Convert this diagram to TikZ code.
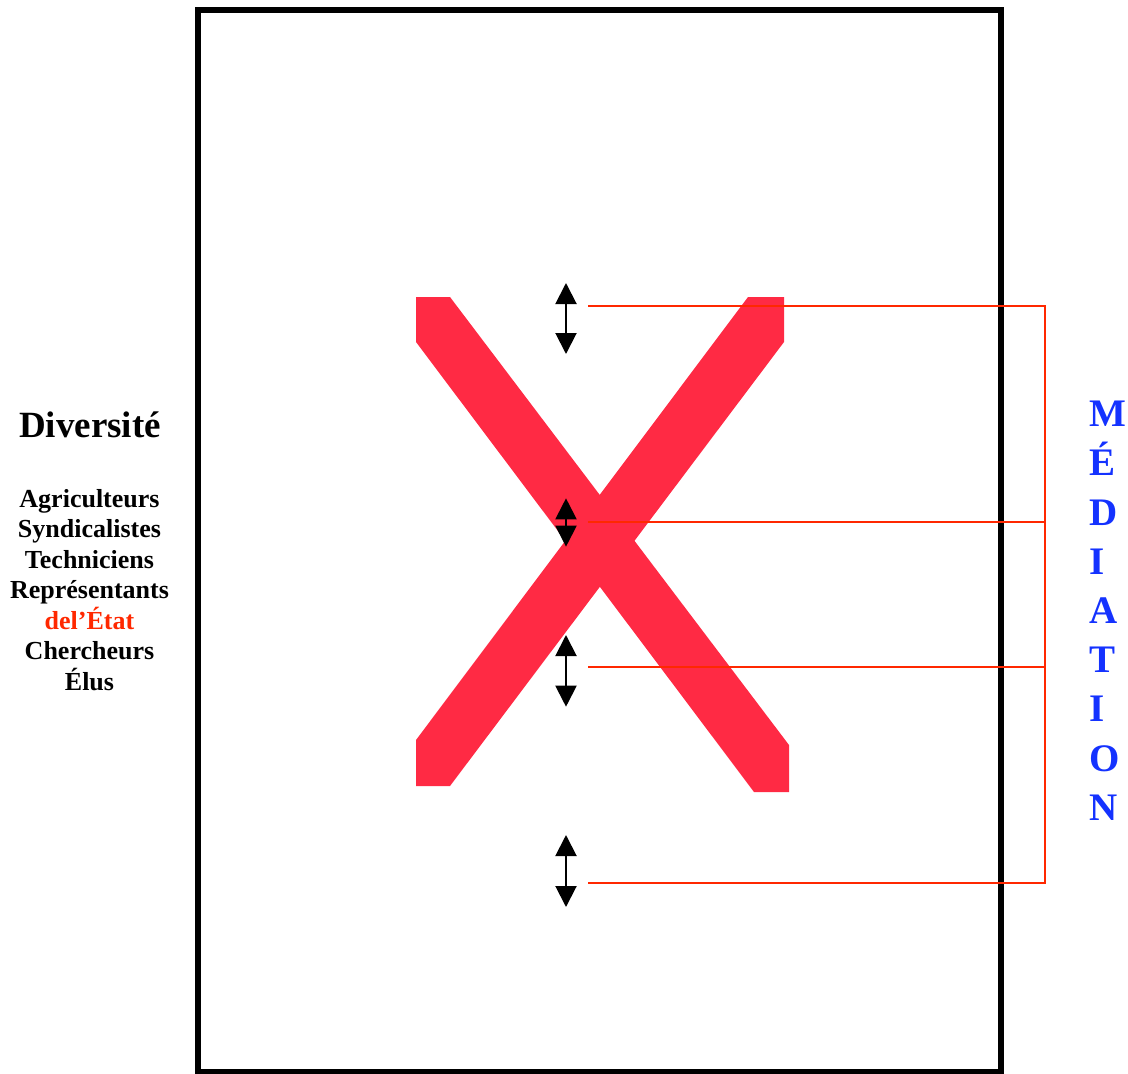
\documentclass[tikz,border=0pt]{standalone}
\usepackage{fontspec}
\setmainfont{Liberation Serif}
\usetikzlibrary{arrows.meta}
\definecolor{xred}{RGB}{255,42,68}
\definecolor{lred}{RGB}{255,40,0}
\definecolor{mblue}{RGB}{20,50,255}
\begin{document}
\begin{tikzpicture}[x=1pt,y=-1pt,
  frame/.style={line width=6pt,draw=black},
  xbar/.style={fill=xred,draw=none},
  dblarrow/.style={line width=2pt,{Triangle[width=21pt,length=21pt]}-{Triangle[width=21pt,length=21pt]}},
  redline/.style={draw=lred,line width=2pt},
  title/.style={font=\bfseries\fontsize{37}{44}\selectfont,anchor=base,inner sep=0pt},
  item/.style={font=\bfseries\fontsize{26}{30}\selectfont,anchor=base,inner sep=0pt},
  vletter/.style={font=\bfseries\fontsize{39}{46}\selectfont,text=mblue,anchor=base west,inner sep=0pt}]
\useasboundingbox (0,0) rectangle (1128,1074);
% frame
\draw[frame] (198,9.5) rectangle (1001,1071.5);
% X
\fill[xbar] (416,297) -- (450,297) -- (789,745) -- (789,792) -- (754,792) -- (416,342) -- cycle;
\fill[xbar] (784,297) -- (748,297) -- (416,740) -- (416,786) -- (450,786) -- (784,342) -- cycle;
% arrows
\coordinate (a1t) at (566,283);   \coordinate (a1b) at (566,354);
\coordinate (a2t) at (566,498.3); \coordinate (a2b) at (566,546.7);
\coordinate (a3t) at (566,635);   \coordinate (a3b) at (566,706.7);
\coordinate (a4t) at (566,835);   \coordinate (a4b) at (566,907);
\draw[dblarrow] (a1t) -- (a1b);
\draw[dblarrow] (a2t) -- (a2b);
\draw[dblarrow] (a3t) -- (a3b);
\draw[dblarrow] (a4t) -- (a4b);
% red bracket lines
\coordinate (r1) at (588,305.7); \coordinate (b1) at (1045,305.7);
\coordinate (r2) at (588,522);   \coordinate (b2) at (1045,522);
\coordinate (r3) at (588,666.7); \coordinate (b3) at (1045,666.7);
\coordinate (r4) at (588,882.7); \coordinate (b4) at (1045,882.7);
\draw[redline] (r1) -- (b1) -- (b4) -- (r4);
\draw[redline] (r2) -- (b2);
\draw[redline] (r3) -- (b3);
% left texts
\node[title] (div) at (90,437) {Diversité};
\node[item] (t1) at (89.5,507.3) {Agriculteurs};
\node[item] (t2) at (89.5,537.8) {Syndicalistes};
\node[item] (t3) at (89.5,568.3) {Techniciens};
\node[item] (t4) at (89.5,598.8) {Représentants};
\node[item,text=lred] (t5) at (89.5,629.3) {del’État};
\node[item] (t6) at (89.5,659.8) {Chercheurs};
\node[item] (t7) at (89.5,690.3) {Élus};
% vertical MÉDIATION
\foreach \ch [count=\i from 0] in {M,É,D,I,A,T,I,O,N}{
  \node[vletter] (m\i) at (1089.7,426.7+49.2*\i) {\ch};
}
\end{tikzpicture}
\end{document}
